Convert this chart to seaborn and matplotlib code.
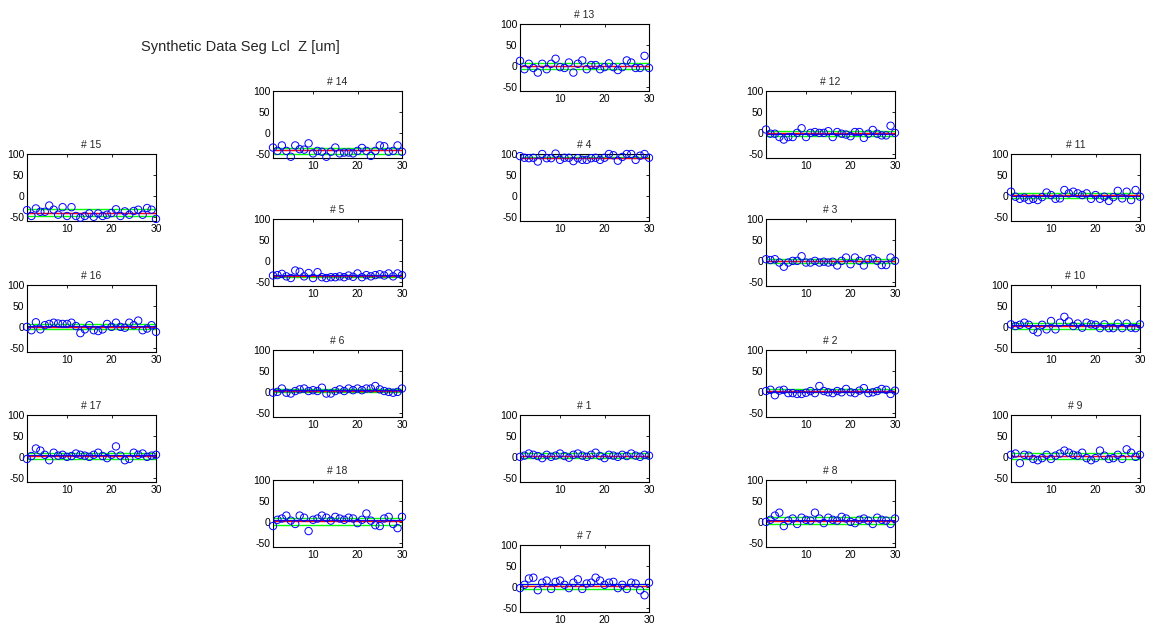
import numpy as np
import pandas as pd
import matplotlib
matplotlib.use("Agg")
import matplotlib.pyplot as plt
import seaborn as sns

sns.set_theme(style="white")
plt.rcParams['font.family'] = ['Liberation Sans', 'DejaVu Sans']

# ---------------- data ----------------
x_idx = list(range(1, 31))

seg_15 = [-34, -48, -30, -38, -38, -23, -33, -45, -27, -48, -27, -48, -52, -48, -42,
          -50, -42, -48, -45, -41, -32, -48, -37, -45, -36, -33, -45, -29, -33, -55]
seg_13 = [12, -8, 5, -5, -16, 5, -8, 5, 17, -3, -5, 8, -16, 5, 13,
          -8, 2, 2, -8, -3, 6, -3, -10, -3, 13, 8, -5, -5, 24, -5]
seg_4 = [95, 91, 90, 91, 82, 100, 90, 90, 101, 86, 91, 91, 83, 90, 86,
         86, 90, 91, 86, 91, 100, 97, 84, 93, 100, 100, 86, 96, 100, 91]
seg_14 = [-35, -43, -30, -43, -57, -30, -39, -40, -25, -49, -43, -45, -57, -45, -35,
          -49, -47, -47, -49, -43, -36, -43, -55, -43, -30, -32, -45, -43, -30, -45]
seg_5 = [-35, -34, -31, -37, -41, -23, -26, -37, -29, -41, -27, -39, -41, -39, -39,
         -37, -39, -35, -38, -30, -39, -34, -37, -34, -32, -35, -30, -37, -30, -34]
seg_12 = [8, -2, -2, -10, -16, -10, -10, 0, 11, -10, 0, 2, 0, 0, 4,
          -10, 2, -2, -4, -8, 2, 2, -12, -2, 7, -2, -6, -6, 17, 0]
seg_11 = [10, -2, -7, -4, -10, -7, -10, -3, 8, 2, -7, -6, 14, 6, 10,
          6, 2, 6, -7, 2, -7, -2, -12, -3, 12, -6, 10, -10, 14, -2]
seg_3 = [4, 2, 4, -4, -14, -4, 0, 0, 11, -4, -4, 0, -4, -2, -4,
         -2, -11, 0, 8, -8, 8, 0, -11, 4, 6, 0, -10, -10, 8, 0]
seg_16 = [0, -8, 11, -6, 4, 7, 10, 8, 7, 7, 10, 2, -15, -6, 4,
          -8, -10, -6, 7, 0, 10, 0, -2, 10, 4, 15, -8, -4, 4, -12]
seg_10 = [6, 2, 5, 10, 5, -7, -13, 5, -6, 14, -6, 10, 24, 13, 2,
          8, -2, 10, 6, 5, -3, 6, -3, -3, 8, -3, 8, -2, -3, 6]
seg_6 = [-2, 0, 8, -2, -4, 2, 6, 8, 2, 4, 2, 10, -4, -4, 2,
         6, 2, 8, 4, 8, 4, 8, 8, 14, 6, 2, 0, -2, 0, 8]
seg_2 = [2, 5, -8, 3, 5, -3, -3, -5, -5, -2, 2, -3, 14, 2, -1,
         -3, 2, -1, 7, -1, -3, 3, 9, -3, -1, 2, 7, 5, -5, 3]
seg_17 = [-5, 2, 20, 15, 5, -8, 10, 3, 5, 0, 2, 8, 5, 3, 0,
          5, 10, 2, -3, 5, 25, 3, -8, -5, 10, 5, 8, 0, 3, 5]
seg_1 = [0, 3, 8, 5, 2, -3, 5, 0, 3, 8, 2, -2, 5, 8, 3,
         0, 5, 10, 2, -3, 5, 3, 0, 5, 2, 8, 3, 0, 5, 3]
seg_9 = [5, 8, -15, 5, 3, -5, -8, -3, 5, -5, 3, 8, 15, 10, 5,
         3, 10, -3, -8, -3, 15, 3, -5, -3, 5, -5, 18, 10, 0, 5]
seg_18 = [-10, 5, 8, 15, 3, -5, 15, 10, -22, 5, 8, 15, 10, 3, 12,
          8, 5, 10, 8, -3, 5, 20, 3, -8, -10, 8, 12, -5, -15, 12]
seg_8 = [0, 5, 15, 22, -10, 3, 8, -5, 10, 5, 3, 22, 8, -3, 10,
         5, 3, 12, 8, 0, -3, 5, 8, 3, -5, 10, 5, 3, -5, 8]
seg_7 = [-3, 5, 20, 22, -8, 10, 15, -5, 12, 15, 5, -3, 10, 18, -5,
         8, 10, 22, 15, 5, 10, 12, -3, 5, -5, 10, 8, -8, -20, 10]

seg_names = [15, 13, 4, 14, 5, 12, 11, 3, 16, 10, 6, 2, 17, 1, 9, 18, 8, 7]
seg_data = [seg_15, seg_13, seg_4, seg_14, seg_5, seg_12, seg_11, seg_3, seg_16,
            seg_10, seg_6, seg_2, seg_17, seg_1, seg_9, seg_18, seg_8, seg_7]
green_hi = [-32, 8, 100, -35, -33, 5, 8, 4, 6, 10, 6, 6, 10, 9, 9, 10, 12, 6]
green_lo = [-48, -7, 94, -50, -38, -7, -6, -4, -6, -5, 0, -1, -4, -3, -4, -8, -6, -6]
red_fit = [-40, 0, 90, -42, -36, -1, 1, -1, 0, 2, 3, 1, 3, 3, 3, 2, 3, 2]

tick_x = [10, 20, 30]
tick_y = [-50, 0, 50, 100]

# ---------------- layout (pixels) ----------------
W, H = 1151, 634
col_left = {1: 27, 2: 273, 3: 520, 4: 766, 5: 1011}
row_top = {0: 24, 1: 91, 2: 154, 3: 219, 4: 285, 5: 350, 6: 415, 7: 480, 8: 545}
place = {13: (3, 0), 14: (2, 1), 12: (4, 1), 15: (1, 2), 4: (3, 2), 11: (5, 2),
         5: (2, 3), 3: (4, 3), 16: (1, 4), 10: (5, 4), 6: (2, 5), 2: (4, 5),
         17: (1, 6), 1: (3, 6), 9: (5, 6), 18: (2, 7), 8: (4, 7), 7: (3, 8)}
aw, ah = 129, 67

fig = plt.figure(figsize=(W / 100, H / 100), dpi=100)
fig.patch.set_facecolor('white')

for name, vals, gh, gl, rf in zip(seg_names, seg_data, green_hi, green_lo, red_fit):
    c, r = place[name]
    left = col_left[c] / W
    bottom = 1 - (row_top[r] + ah) / H
    ax = fig.add_axes([left, bottom, aw / W, ah / H])
    df = pd.DataFrame({'x': x_idx, 'z': vals})
    xs = [x_idx[0], x_idx[-1]]
    sns.lineplot(x=xs, y=[gh, gh], ax=ax, color='#00ff00', lw=1.0)
    sns.lineplot(x=xs, y=[gl, gl], ax=ax, color='#00ff00', lw=1.0)
    m = float(np.mean(vals))
    sns.lineplot(x=xs, y=[m, m], ax=ax, color='#0000ff', lw=0.8)
    sns.lineplot(x=xs, y=[rf, rf], ax=ax, color='#ff0000', lw=1.0)
    sns.scatterplot(data=df, x='x', y='z', ax=ax, marker='o', s=28,
                    facecolors='none', edgecolor='#0000ff', linewidth=0.7,
                    clip_on=False, zorder=5)
    ax.set_xlim(1, 30)
    ax.set_ylim(-60, 100)
    ax.set_xticks(tick_x)
    ax.set_yticks(tick_y)
    ax.set_xticklabels([str(t) for t in tick_x])
    ax.set_yticklabels([str(t) for t in tick_y])
    ax.set_xlabel('')
    ax.set_ylabel('')
    ax.tick_params(direction='in', length=2.5, width=0.6, labelsize=7.5,
                   top=True, right=True, pad=2, colors='black')
    for sp in ax.spines.values():
        sp.set_visible(True)
        sp.set_color('black')
        sp.set_linewidth(0.8)
    ax.set_title(f'# {name}', fontsize=7.5, pad=4)
    ax.set_facecolor('white')

fig.text(240 / W, 1 - 47 / H, 'Synthetic Data Seg Lcl  Z [um]',
         ha='center', va='center', fontsize=10.5)

fig.savefig('out.png', dpi=100, facecolor='white')
